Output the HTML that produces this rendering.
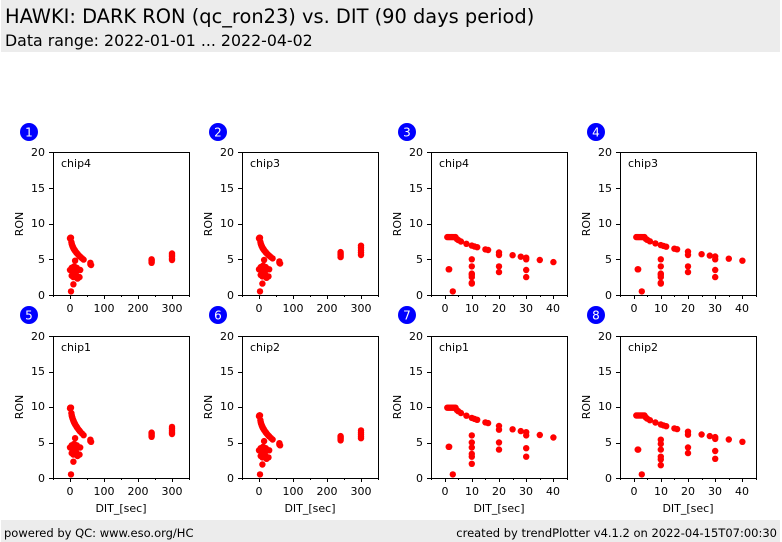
<!DOCTYPE html>
<html><head><meta charset="utf-8"><style>
body{margin:0;width:782px;height:542px;background:#fff;font-family:"DejaVu Sans","Liberation Sans",sans-serif;overflow:hidden;position:relative}
.hd{position:absolute;left:1px;top:0;width:779px;height:52px;background:#ececec}
.t1{position:absolute;left:4px;top:5px;font-size:19.4px;color:#000;white-space:nowrap}
.t2{position:absolute;left:4px;top:31px;font-size:15.8px;color:#000;white-space:nowrap}
.ft{position:absolute;left:1px;top:520px;width:779px;height:22px;background:#ececec;font-size:11.5px}
.ft span{position:absolute;top:6px}
svg text{font-family:"DejaVu Sans","Liberation Sans",sans-serif;font-size:11px;fill:#000}
</style></head><body>
<div class="hd"><div class="t1">HAWKI: DARK RON (qc_ron23) vs. DIT (90 days period)</div><div class="t2">Data range: 2022-01-01 ... 2022-04-02</div></div>
<svg id="s" width="782" height="542" style="position:absolute;left:0;top:0">
<g transform="translate(3,112)"><circle cx="26" cy="20" r="9" fill="#0000ff"/><text x="26" y="24.5" text-anchor="middle" style="fill:#fff;font-size:12px">1</text><text x="58" y="55" >chip4</text></g>
<g transform="translate(192,112)"><circle cx="26" cy="20" r="9" fill="#0000ff"/><text x="26" y="24.5" text-anchor="middle" style="fill:#fff;font-size:12px">2</text><text x="58" y="55">chip3</text></g>
<g transform="translate(381,112)"><circle cx="26" cy="20" r="9" fill="#0000ff"/><text x="26" y="24.5" text-anchor="middle" style="fill:#fff;font-size:12px">3</text><text x="58" y="55">chip4</text></g>
<g transform="translate(570,112)"><circle cx="26" cy="20" r="9" fill="#0000ff"/><text x="26" y="24.5" text-anchor="middle" style="fill:#fff;font-size:12px">4</text><text x="58" y="55">chip3</text></g>
<g transform="translate(3,296)"><circle cx="26" cy="19" r="9" fill="#0000ff"/><text x="26" y="23.5" text-anchor="middle" style="fill:#fff;font-size:12px">5</text><text x="58" y="55">chip1</text></g>
<g transform="translate(192,296)"><circle cx="26" cy="19" r="9" fill="#0000ff"/><text x="26" y="23.5" text-anchor="middle" style="fill:#fff;font-size:12px">6</text><text x="58" y="55">chip2</text></g>
<g transform="translate(381,296)"><circle cx="26" cy="19" r="9" fill="#0000ff"/><text x="26" y="23.5" text-anchor="middle" style="fill:#fff;font-size:12px">7</text><text x="58" y="55">chip1</text></g>
<g transform="translate(570,296)"><circle cx="26" cy="19" r="9" fill="#0000ff"/><text x="26" y="23.5" text-anchor="middle" style="fill:#fff;font-size:12px">8</text><text x="58" y="55">chip2</text></g>
<g text-anchor="end">
<text x="45" y="299">0</text><text x="45" y="263">5</text><text x="45" y="227">10</text><text x="45" y="192">15</text><text x="45" y="156">20</text>
<text x="234" y="299">0</text><text x="234" y="263">5</text><text x="234" y="227">10</text><text x="234" y="192">15</text><text x="234" y="156">20</text>
<text x="423" y="299">0</text><text x="423" y="263">5</text><text x="423" y="227">10</text><text x="423" y="192">15</text><text x="423" y="156">20</text>
<text x="612" y="299">0</text><text x="612" y="263">5</text><text x="612" y="227">10</text><text x="612" y="192">15</text><text x="612" y="156">20</text>
<text x="45" y="482">0</text><text x="45" y="446">5</text><text x="45" y="410">10</text><text x="45" y="375">15</text><text x="45" y="340">20</text>
<text x="234" y="482">0</text><text x="234" y="446">5</text><text x="234" y="410">10</text><text x="234" y="375">15</text><text x="234" y="340">20</text>
<text x="423" y="482">0</text><text x="423" y="446">5</text><text x="423" y="410">10</text><text x="423" y="375">15</text><text x="423" y="340">20</text>
<text x="612" y="482">0</text><text x="612" y="446">5</text><text x="612" y="410">10</text><text x="612" y="375">15</text><text x="612" y="340">20</text>
</g>
<g text-anchor="middle">
<text transform="translate(23,224) rotate(-90)">RON</text><text transform="translate(212,224) rotate(-90)">RON</text><text transform="translate(401,224) rotate(-90)">RON</text><text transform="translate(590,224) rotate(-90)">RON</text>
<text transform="translate(23,407) rotate(-90)">RON</text><text transform="translate(212,407) rotate(-90)">RON</text><text transform="translate(401,407) rotate(-90)">RON</text><text transform="translate(590,407) rotate(-90)">RON</text>
<text x="70" y="312">0</text><text x="104" y="312">100</text><text x="138" y="312">200</text><text x="172" y="312">300</text>
<text x="259" y="312">0</text><text x="293" y="312">100</text><text x="327" y="312">200</text><text x="361" y="312">300</text>
<text x="445" y="312">0</text><text x="472" y="312">10</text><text x="499" y="312">20</text><text x="526" y="312">30</text><text x="553" y="312">40</text>
<text x="634" y="312">0</text><text x="661" y="312">10</text><text x="688" y="312">20</text><text x="715" y="312">30</text><text x="742" y="312">40</text>
<text x="70" y="495">0</text><text x="104" y="495">100</text><text x="138" y="495">200</text><text x="172" y="495">300</text>
<text x="259" y="495">0</text><text x="293" y="495">100</text><text x="327" y="495">200</text><text x="361" y="495">300</text>
<text x="445" y="495">0</text><text x="472" y="495">10</text><text x="499" y="495">20</text><text x="526" y="495">30</text><text x="553" y="495">40</text>
<text x="634" y="495">0</text><text x="661" y="495">10</text><text x="688" y="495">20</text><text x="715" y="495">30</text><text x="742" y="495">40</text>
<text x="121" y="512">DIT_[sec]</text><text x="310" y="512">DIT_[sec]</text><text x="499" y="512">DIT_[sec]</text><text x="688" y="512">DIT_[sec]</text>
</g>
<g id="g"></g>
</svg>
<div class="ft"><span style="left:3px">powered by QC: www.eso.org/HC</span><span style="right:3px">created by trendPlotter v4.1.2 on 2022-04-15T07:00:30</span></div>
<script>
var g=document.getElementById('g'),h='';
var Ls=[53,242,431,620],rows=[[152,295],[336,478]];
function panel(i,top,longx,d){
 var L=Ls[i%4],T=rows[top][0],B=rows[top][1],W=136;
 function X(v){return longx?L+(v+50)*W/400:L+(v+5)*W/50}
 function Y(v){return B-v*(B-T)/20}
 h+='<rect x="'+L+'.5" y="'+T+'.5" width="'+W+'" height="'+(B-T)+'" fill="none" stroke="#000" stroke-width="1"/>';
 for(var v=0;v<=20;v+=5){var y=Math.round(Y(v))+.5;h+='<line x1="'+(L-4)+'" x2="'+L+'" y1="'+y+'" y2="'+y+'" stroke="#000"/>';}
 var tk=longx?[-50,0,50,100,150,200,250,300,350]:[-5,0,5,10,15,20,25,30,35,40,45];
 tk.forEach(function(v,j){var x=Math.round(X(v))+.5,big=longx?(v%100==0):(v%10==0);h+='<line x1="'+x+'" x2="'+x+'" y1="'+B+'" y2="'+(B+(big?4:2))+'" stroke="#000"/>';});
 d.forEach(function(p){h+='<circle cx="'+X(p[0]).toFixed(1)+'" cy="'+Y(p[1]).toFixed(1)+'" r="3.2" fill="#ff0000"/>';});
}
function curve(a,b,xs,end,off,pw){var r=[];xs.forEach(function(x){var t=Math.pow(Math.min(1,Math.max(0,x-off)/(end-off)),pw);r.push([x,a-(a-b)*t]);});return r;}
function leftData(a,b,lo,s240,s300){
 var r=curve(a,b,[1,2,3,4,5,6,7,8,9,10,11,12,13,14,15,17,19,20,22,25,28,30,35,40,60],60,3,0.45);
 r=r.concat([[0,a-.1],[2,a],[60,b+.2],[62,b-.1]]);
 [[0,lo],[2,lo],[5,lo+.3],[8,lo-.5],[10,lo-1],[10,lo-2],[12,lo+.5],[15,lo],[18,lo-.7],[20,lo+.3],[22,lo-1.2],[25,lo],[28,lo-1],[30,lo],[15,lo+1.3],[10,lo-.2],[5,lo-.8]].forEach(function(p){r.push(p)});
 r.push([3,.5]);
 for(var k=0;k<5;k++){r.push([240,s240[0]+(s240[1]-s240[0])*k/4]);r.push([300,s300[0]+(s300[1]-s300[0])*k/4]);}
 return r;}
function rightData(a,b,lo,vals){
 var r=curve(a,b,[1,1.5,2,2.5,3,3.5,4,4.5,5,6,8,10,11,12,15,16,20,25,28,30,35,40],40,4,0.6);
 r=r.concat([[1.5,lo],[1.7,lo],[3,.5]]);
 vals.forEach(function(p){r.push(p)});return r;}
var v1=[[10,1.6],[10,1.7],[10,2.5],[10,2.8],[10,3],[10,4],[10,5],[20,3.2],[20,4],[20,5.6],[30,2.5],[30,3.5],[30,5]];
panel(0,0,1,leftData(8,4.3,3.5,[4.5,5],[4.9,5.8]));
panel(1,0,1,leftData(8,4.5,3.6,[5.3,6],[5.6,6.9]));
panel(2,0,0,rightData(8.1,4.6,3.6,v1));
panel(3,0,0,rightData(8.1,4.8,3.6,v1));
panel(4,1,1,leftData(9.9,5.2,4.3,[5.8,6.4],[6.2,7.2]));
panel(5,1,1,leftData(8.8,4.7,3.9,[5.3,5.9],[5.6,6.7]));
panel(6,1,0,rightData(9.9,5.7,4.4,[[10,2],[10,3],[10,3.4],[10,4.3],[10,5],[10,6],[20,4],[20,5],[20,6.8],[30,3],[30,4.2],[30,6]]));
panel(7,1,0,rightData(8.8,5.1,4,[[10,1.8],[10,2.6],[10,3],[10,4],[10,4.8],[10,5.4],[20,3.5],[20,4.3],[20,6.1],[30,2.7],[30,3.8],[30,5.5]]));
g.innerHTML=h;
</script>
</body></html>
